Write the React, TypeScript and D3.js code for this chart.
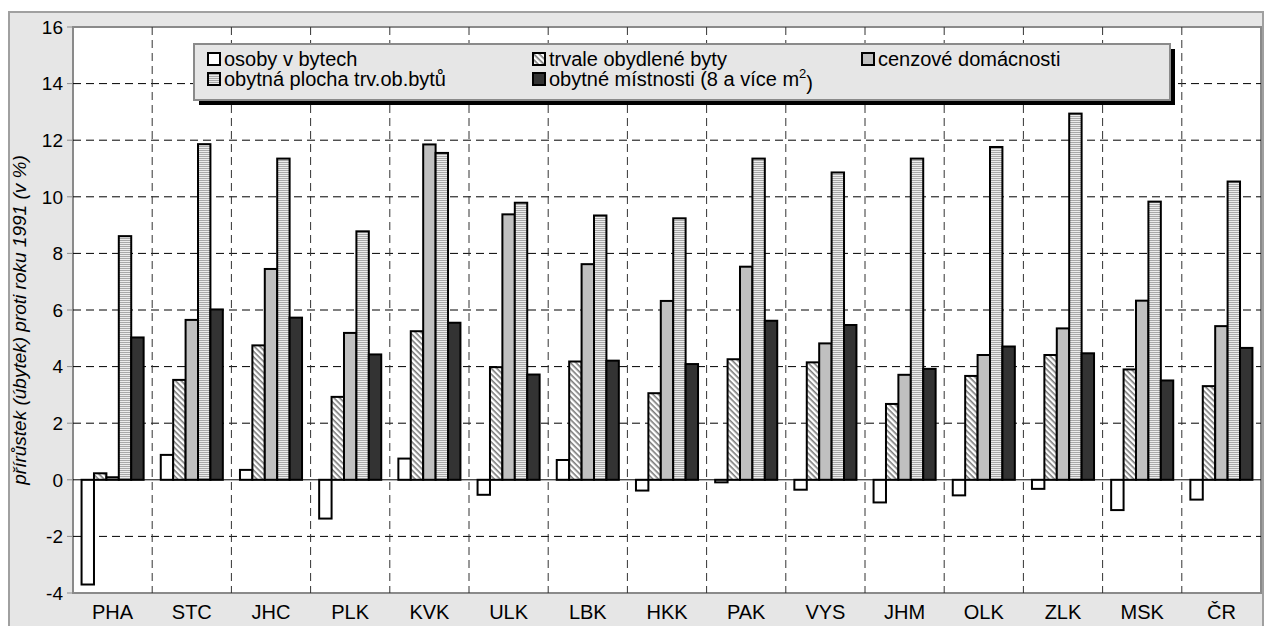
import React from "react";
import * as d3 from "d3";

const categories = ["PHA", "STC", "JHC", "PLK", "KVK", "ULK", "LBK", "HKK", "PAK", "VYS", "JHM", "OLK", "ZLK", "MSK", "ČR"];
const seriesNames = [
  "osoby v bytech",
  "trvale obydlené byty",
  "cenzové domácnosti",
  "obytná plocha trv.ob.bytů",
  "obytné místnosti (8 a více m",
];
const osobyVBytech = [-3.7, 0.88, 0.35, -1.37, 0.75, -0.53, 0.7, -0.38, -0.09, -0.35, -0.8, -0.55, -0.32, -1.07, -0.7];
const trvaleObydleneByty = [0.23, 3.53, 4.75, 2.93, 5.25, 3.98, 4.18, 3.06, 4.26, 4.15, 2.68, 3.67, 4.41, 3.9, 3.31];
const cenzoveDomacnosti = [0.09, 5.65, 7.45, 5.19, 11.85, 9.38, 7.62, 6.32, 7.53, 4.82, 3.71, 4.41, 5.35, 6.33, 5.43];
const obytnaPlocha = [8.61, 11.86, 11.35, 8.78, 11.55, 9.79, 9.34, 9.24, 11.35, 10.86, 11.35, 11.76, 12.94, 9.83, 10.54];
const obytneMistnosti = [5.03, 6.02, 5.73, 4.43, 5.55, 3.72, 4.21, 4.09, 5.62, 5.47, 3.92, 4.71, 4.47, 3.51, 4.66];
const yTicks = [-4, -2, 0, 2, 4, 6, 8, 10, 12, 14, 16];

const series = [osobyVBytech, trvaleObydleneByty, cenzoveDomacnosti, obytnaPlocha, obytneMistnosti];
const fills = ["#ffffff", "url(#hatch)", "#c0c0c0", "url(#stripes)", "#333333"];

const W = 1266;
const H = 626;
const left = 73;
const right = 1261;
const top = 27;
const bottom = 593;
const font = "Arial, 'Liberation Sans', sans-serif";

export default function App() {
  const x = d3.scaleBand<string>().domain(categories).range([left, right]).paddingInner(0).paddingOuter(0);
  const xs = d3
    .scaleBand<number>()
    .domain(d3.range(series.length))
    .range([0, x.bandwidth()])
    .paddingInner(0)
    .paddingOuter(0.69);
  const y = d3.scaleLinear().domain([-4, 16]).range([bottom, top]);

  // legend slots: column x, row y
  const legCols = [208, 533, 862];
  const legRows = [59, 79];

  return (
    <svg width={W} height={H} style={{ position: "absolute", left: 0, top: 0 }} fontFamily={font}>
      <defs>
        <pattern id="hatch" width="4" height="4" patternUnits="userSpaceOnUse" patternTransform="rotate(45)">
          <rect width="4" height="4" fill="#ffffff" />
          <rect width="4" height="1.6" fill="#7a7a7a" />
        </pattern>
        <pattern id="stripes" width="4" height="2" patternUnits="userSpaceOnUse">
          <rect width="4" height="2" fill="#ececec" />
          <rect width="4" height="1" fill="#a8a8a8" />
        </pattern>
      </defs>

      <rect x={9} y={12} width={1254} height={630} fill="#e6e6e6" stroke="#a0a0a0" strokeWidth={2} />
      <rect x={left} y={top} width={right - left} height={bottom - top} fill="#ffffff" stroke="#8a8a8a" strokeWidth={2} />

      {/* horizontal grid */}
      {yTicks
        .filter((t) => t !== -4 && t !== 16 && t !== 0)
        .map((t) => (
          <line key={"h" + t} x1={left} x2={right} y1={y(t)} y2={y(t)} stroke="#000" strokeWidth={1} strokeDasharray="8,5" />
        ))}
      {/* vertical grid */}
      {categories.slice(1).map((c) => (
        <line
          key={"v" + c}
          x1={x(c)}
          x2={x(c)}
          y1={top}
          y2={bottom}
          stroke="#333"
          strokeWidth={1}
          strokeDasharray="8,5"
        />
      ))}

      {/* y ticks */}
      {yTicks.map((t) => (
        <g key={"t" + t}>
          <line x1={left - 6} x2={left} y1={y(t)} y2={y(t)} stroke="#8a8a8a" strokeWidth={1} />
          <text x={left - 10} y={y(t)} dy="0.36em" textAnchor="end" fontSize={19} fill="#000">
            {t}
          </text>
        </g>
      ))}

      {/* bars */}
      {categories.map((c, i) => (
        <g key={c} transform={`translate(${x(c)},0)`}>
          {series.map((s, k) => {
            const v = s[i];
            return (
              <rect
                key={k}
                x={xs(k)}
                y={Math.min(y(v), y(0))}
                width={xs.bandwidth()}
                height={Math.abs(y(v) - y(0))}
                fill={fills[k]}
                stroke="#000"
                strokeWidth={2}
              />
            );
          })}
        </g>
      ))}

      <line x1={left} x2={right} y1={y(0)} y2={y(0)} stroke="#000" strokeWidth={1} />

      {/* x labels */}
      {categories.map((c) => (
        <text key={"l" + c} x={x(c)! + x.bandwidth() / 2} y={612} dy="0.36em" textAnchor="middle" fontSize={20}>
          {c}
        </text>
      ))}

      {/* y title */}
      <text
        transform={`translate(26,${(top + bottom) / 2 + 10}) rotate(-90)`}
        textAnchor="middle"
        fontSize={19}
        fontStyle="italic"
      >
        přírůstek (úbytek) proti roku 1991 (v %)
      </text>

      {/* legend */}
      <rect x={199} y={49} width={976} height={56} fill="#000" />
      <rect x={194} y={44} width={976} height={56} fill="#e6e6e6" stroke="#8a8a8a" strokeWidth={2} />
      {seriesNames.map((name, k) => {
        const cx = legCols[k % 3];
        const cy = legRows[Math.floor(k / 3)];
        return (
          <g key={"lg" + k}>
            <rect x={cx} y={cy - 6} width={12} height={12} fill={fills[k]} stroke="#000" strokeWidth={2} />
            <text x={cx + 16} y={cy} dy="0.36em" fontSize={20}>
              {name}
              {k === 4 && (
                <>
                  <tspan dy="-0.6em" fontSize={13}>
                    2
                  </tspan>
                  <tspan dy="0.6em">)</tspan>
                </>
              )}
            </text>
          </g>
        );
      })}
    </svg>
  );
}
